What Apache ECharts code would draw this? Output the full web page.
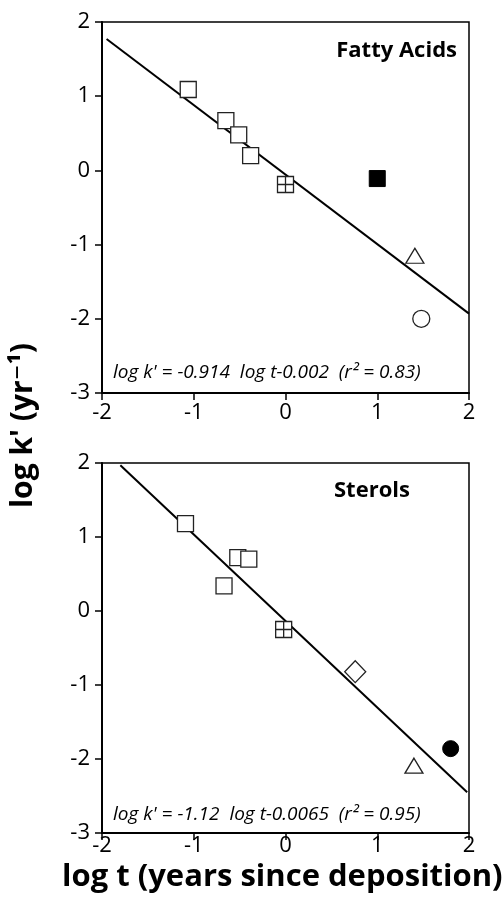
<!DOCTYPE html>
<html>
<head>
<meta charset="utf-8">
<script src="https://cdn.jsdelivr.net/npm/echarts@6/dist/echarts.min.js"></script>
<style>
  html, body { margin: 0; padding: 0; background: #fff; }
  #chart { width: 503px; height: 904px; }
</style>
</head>
<body>
<div id="chart"></div>
<script>
// --- Fatty acids panel ---
const faOpenSq = [[-1.06, 1.09], [-0.65, 0.67], [-0.51, 0.48], [-0.38, 0.20]];
const faCrossSq = [[0.0, -0.19]];
const faFillSq = [[1.0, -0.11]];
const faTri = [[1.41, -1.15]];
const faCircle = [[1.48, -2.0]];
const faFit = [[-1.95, 1.77], [2.0, -1.93]];

// --- Sterols panel ---
const stOpenSq = [[-1.09, 1.18], [-0.52, 0.72], [-0.40, 0.70], [-0.67, 0.34]];
const stCrossSq = [[-0.02, -0.25]];
const stDiamond = [[0.76, -0.82]];
const stTri = [[1.40, -2.09]];
const stFillCircle = [[1.80, -1.86]];
const stFit = [[-1.80, 1.97], [1.98, -2.45]];

const xRange = [-2, 2];
const yRange = [-3, 2];

const panelTitles = ['Fatty Acids', 'Sterols'];
const equations = [
  "log k' = -0.914  log t-0.002  (r\u00B2 = 0.83)",
  "log k' = -1.12  log t-0.0065  (r\u00B2 = 0.95)"
];

const FONT = '"Open Sans", "DejaVu Sans", sans-serif';
const crossSquare = 'path://M0,0H16V16H0Z M8,0V16 M0,8H16';

function xAxisFor(i, margin) {
  return {
    gridIndex: i, type: 'value', min: xRange[0], max: xRange[1], interval: 1,
    axisLine: { onZero: false, lineStyle: { color: '#000', width: 2 } },
    axisTick: { length: 7, lineStyle: { color: '#000', width: 1.5 } },
    axisLabel: { color: '#000', fontSize: 22, fontFamily: FONT, margin: margin },
    splitLine: { show: false }
  };
}
function yAxisFor(i) {
  return {
    gridIndex: i, type: 'value', min: yRange[0], max: yRange[1], interval: 1,
    axisLine: { onZero: false, lineStyle: { color: '#000', width: 2 } },
    axisTick: { length: 7, lineStyle: { color: '#000', width: 1.5 } },
    axisLabel: { color: '#000', fontSize: 22, fontFamily: FONT, margin: 12 },
    splitLine: { show: false }
  };
}

const openStyle = { color: '#fff', borderColor: '#222', borderWidth: 1.3, opacity: 1 };
const fillStyle = { color: '#000', borderColor: '#000', borderWidth: 1, opacity: 1 };

function pts(idx, data, symbol, size, style) {
  return {
    type: 'scatter', xAxisIndex: idx, yAxisIndex: idx, data: data,
    symbol: symbol, symbolSize: size, itemStyle: style, z: 5, silent: true
  };
}
function fit(idx, data) {
  return {
    type: 'line', xAxisIndex: idx, yAxisIndex: idx, data: data,
    symbol: 'none', lineStyle: { color: '#000', width: 2 }, z: 3, silent: true
  };
}

const chart = echarts.init(document.getElementById('chart'));
chart.setOption({
  animation: false,
  backgroundColor: '#fff',
  grid: [
    { left: 102, top: 22, width: 367, height: 371, show: true, borderColor: '#000', borderWidth: 1.5 },
    { left: 102, top: 463, width: 367, height: 370, show: true, borderColor: '#000', borderWidth: 1.5 }
  ],
  xAxis: [xAxisFor(0, 9), xAxisFor(1, 2)],
  yAxis: [yAxisFor(0), yAxisFor(1)],
  series: [
    fit(0, faFit),
    pts(0, faOpenSq, 'rect', 16, openStyle),
    pts(0, faCrossSq, crossSquare, 16, openStyle),
    pts(0, faFillSq, 'rect', 16, fillStyle),
    pts(0, faTri, 'triangle', [18, 15], openStyle),
    pts(0, faCircle, 'circle', 17, openStyle),
    fit(1, stFit),
    pts(1, stOpenSq, 'rect', 16, openStyle),
    pts(1, stCrossSq, crossSquare, 16, openStyle),
    pts(1, stDiamond, 'diamond', [21, 22], openStyle),
    pts(1, stTri, 'triangle', [18, 15], openStyle),
    pts(1, stFillCircle, 'circle', 16, fillStyle)
  ],
  graphic: [
    { type: 'text', right: 46, top: 40, style: { text: panelTitles[0], font: 'bold 22px ' + FONT, fill: '#000' } },
    { type: 'text', left: 334, top: 480, style: { text: panelTitles[1], font: 'bold 22px ' + FONT, fill: '#000' } },
    { type: 'text', left: 113, top: 363, style: { text: equations[0], font: 'italic 19px ' + FONT, fill: '#000' } },
    { type: 'text', left: 113, top: 805, style: { text: equations[1], font: 'italic 19px ' + FONT, fill: '#000' } },
    {
      type: 'text', left: 8, top: 343, rotation: Math.PI / 2,
      style: { text: "log k' (yr\u207B\u00B9)", font: 'bold 30px ' + FONT, fill: '#000' }
    },
    { type: 'text', left: 62, top: 862, style: { text: 'log t (years since deposition)', font: 'bold 31px ' + FONT, fill: '#000' } }
  ]
});
</script>
</body>
</html>
